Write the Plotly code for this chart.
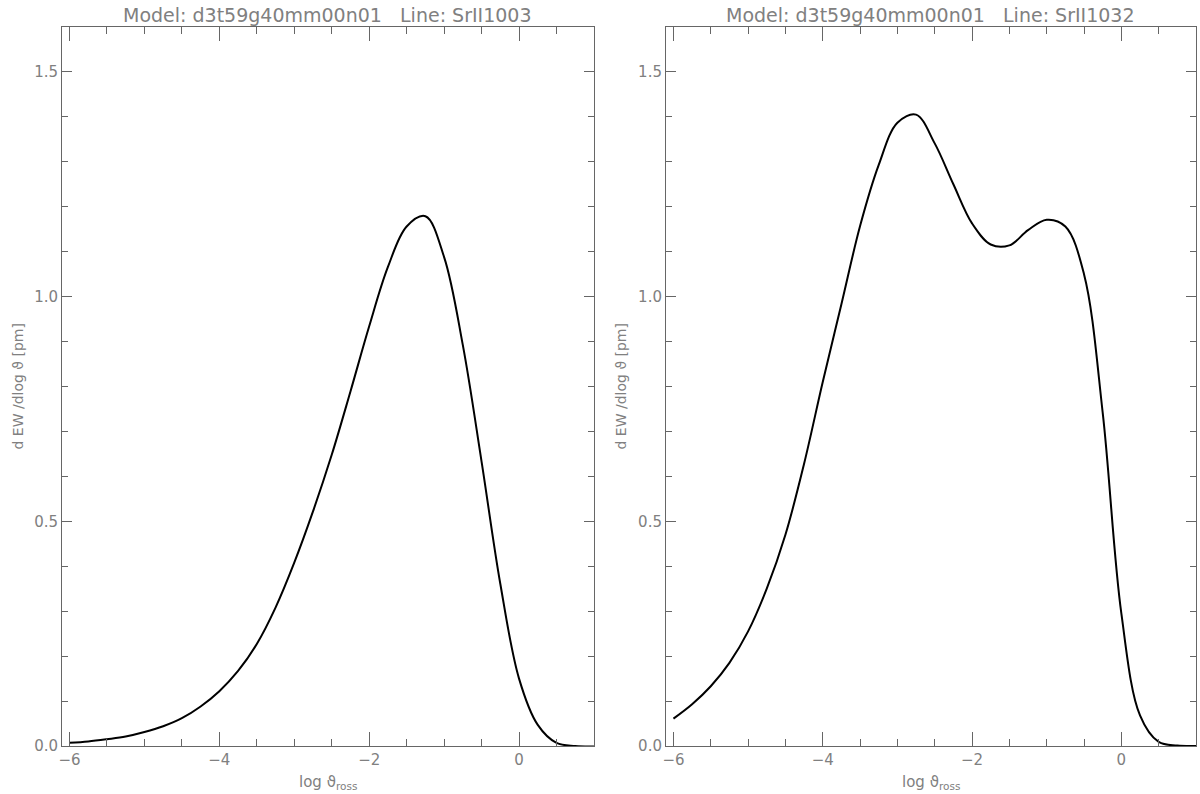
import plotly.graph_objects as go

# left panel: SrII 1003  (every 0.25 in log tau)
x_left = [-6.0, -5.75, -5.5, -5.25, -5.0, -4.75, -4.5, -4.25, -4.0, -3.75, -3.5, -3.25,
          -3.0, -2.75, -2.5, -2.25, -2.0, -1.75, -1.5, -1.25, -1.0, -0.75,
          -0.5, -0.25, 0.0, 0.25, 0.5, 0.75, 1.0]
y_left = [0.007, 0.010, 0.015, 0.021, 0.031, 0.044, 0.062, 0.088, 0.122, 0.167, 0.227, 0.308,
          0.408, 0.522, 0.648, 0.789, 0.934, 1.066, 1.156, 1.179, 1.088, 0.892,
          0.633, 0.361, 0.150, 0.047, 0.007, 0.0, -0.001]

# right panel: SrII 1032
x_right = [-6.0, -5.75, -5.5, -5.25, -5.0, -4.75, -4.5, -4.25, -4.0, -3.75, -3.5, -3.25,
           -3.0, -2.75, -2.5, -2.25, -2.0, -1.75, -1.5, -1.25, -1.0, -0.75,
           -0.5, -0.25, 0.0, 0.25, 0.5, 0.75, 1.0]
y_right = [0.061, 0.093, 0.133, 0.185, 0.255, 0.35, 0.47, 0.628, 0.81, 0.983, 1.157, 1.293,
           1.387, 1.405, 1.341, 1.250, 1.163, 1.116, 1.114, 1.148, 1.171, 1.156,
           1.05, 0.742, 0.295, 0.068, 0.009, 0.001, 0.0]

titles = ["Model: d3t59g40mm00n01   Line: SrII1003",
          "Model: d3t59g40mm00n01   Line: SrII1032"]
xlabel = "log ϑ<sub>ross</sub>"
ylabel = "d EW /dlog ϑ [pm]"

FONT = "DejaVu Sans"
GREY = "#808080"
AXC = "#666666"

fig = go.Figure()
fig.add_trace(go.Scatter(x=x_left, y=y_left, mode="lines", xaxis="x", yaxis="y",
                         line=dict(color="black", width=2, shape="spline", smoothing=1.0),
                         showlegend=False))
fig.add_trace(go.Scatter(x=x_right, y=y_right, mode="lines", xaxis="x2", yaxis="y2",
                         line=dict(color="black", width=2, shape="spline", smoothing=1.0),
                         showlegend=False))

xcommon = dict(range=[-6.1, 1.0], tickmode="linear", tick0=-6, dtick=2,
               ticks="inside", ticklen=14, tickcolor=AXC, tickwidth=1,
               minor=dict(dtick=0.5, tick0=-6, ticks="inside", ticklen=7, tickcolor=AXC),
               showline=True, linecolor=AXC, linewidth=1, mirror="ticks",
               showgrid=False, zeroline=False, fixedrange=True,
               tickfont=dict(family=FONT, size=15, color=GREY))
ycommon = dict(range=[0, 1.6], tickmode="linear", tick0=0, dtick=0.5, tickformat=".1f",
               ticks="inside", ticklen=10, tickcolor=AXC, tickwidth=1,
               minor=dict(dtick=0.1, tick0=0, ticks="inside", ticklen=6, tickcolor=AXC),
               showline=True, linecolor=AXC, linewidth=1, mirror="ticks",
               showgrid=False, zeroline=False, fixedrange=True,
               tickfont=dict(family=FONT, size=15, color=GREY))

fig.update_layout(
    width=1200, height=794,
    margin=dict(l=62, r=4, t=27, b=48),
    plot_bgcolor="white", paper_bgcolor="white",
    xaxis=dict(domain=[0, 0.4691], anchor="y", **xcommon),
    yaxis=dict(domain=[0, 1], anchor="x", **ycommon),
    xaxis2=dict(domain=[0.5326, 1], anchor="y2", **xcommon),
    yaxis2=dict(domain=[0, 1], anchor="x2", **ycommon),
)

for i, xref in enumerate(["x domain", "x2 domain"]):
    fig.add_annotation(text=titles[i], xref=xref, yref="paper", x=0.5, y=1, yshift=12,
                       showarrow=False, yanchor="middle",
                       font=dict(family=FONT, size=19, color=GREY))
    fig.add_annotation(text=xlabel, xref=xref, yref="paper", x=0.5, y=0, yshift=-36,
                       showarrow=False, yanchor="middle",
                       font=dict(family=FONT, size=15, color=GREY))
    fig.add_annotation(text=ylabel, xref=xref, yref="paper", x=0, xshift=-45, y=0.5,
                       showarrow=False, textangle=-90, xanchor="center",
                       font=dict(family=FONT, size=14, color=GREY))

fig.write_html("out.html", config={"displayModeBar": False},
               post_script="document.body.style.margin='0px';")
